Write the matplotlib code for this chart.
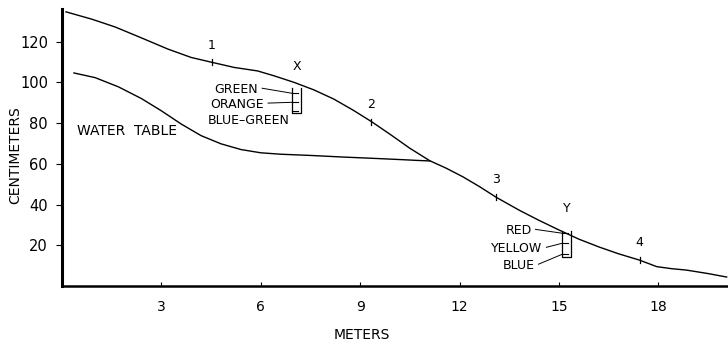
import matplotlib.pyplot as plt
import numpy as np

# profile of the ground surface (meters, centimeters)
surf_x = [0.12, 0.9, 1.6, 2.4, 3.2, 3.9, 4.53, 5.2, 5.9, 6.4, 7.0, 7.6, 8.2, 8.8, 9.34,
          9.9, 10.5, 11.1, 11.6, 12.1, 12.6, 13.1, 13.8, 14.4, 15.0, 15.6, 16.2, 16.8,
          17.43, 17.95, 18.4, 18.85, 19.5, 20.06]
surf_y = [134.6, 131.0, 127.2, 121.8, 116.3, 112.2, 109.8, 107.3, 105.6, 103.2, 100.0, 96.3,
          91.8, 86.2, 80.7, 74.5, 67.6, 61.5, 57.8, 53.6, 48.8, 43.6, 37.2, 32.2, 27.5, 23.0,
          19.2, 15.8, 12.7, 9.5, 8.5, 7.8, 6.1, 4.4]

# water table, joins the surface near 11 m
wt_x = [0.36, 1.0, 1.7, 2.4, 3.0, 3.6, 4.2, 4.8, 5.4, 6.0, 6.6, 7.5, 8.5, 9.5, 10.3, 10.8, 11.1]
wt_y = [104.6, 102.3, 97.8, 92.0, 86.0, 79.5, 73.8, 69.8, 67.0, 65.4, 64.7, 64.1, 63.3,
        62.6, 62.0, 61.6, 61.4]

# numbered stations on the surface
stations = ['1', '2', '3', '4']
station_x = [4.53, 9.34, 13.1, 17.43]
station_y = [109.8, 80.7, 43.6, 12.7]

# sampling columns X and Y
col_names = ['X', 'Y']
col_x = [6.95, 15.1]
col_top = [97.0, 27.0]
col_bot = [85.0, 14.0]
col_layers = [['GREEN', 'ORANGE', 'BLUE–GREEN'], ['RED', 'YELLOW', 'BLUE']]
layer_y = [[94.6, 90.2, 86.0], [25.9, 21.0, 15.6]]
label_y = [[96.6, 89.3, 81.5], [27.3, 18.5, 10.2]]

x_ticks = [3, 6, 9, 12, 15, 18]
y_ticks = [20, 40, 60, 80, 100, 120]

plt.rcParams['font.family'] = ['DejaVu Sans']
fig = plt.figure(figsize=(7.28, 3.45), dpi=100)
ax = fig.add_axes([62 / 728, 59 / 345, 666 / 728, 277 / 345])

ax.plot(surf_x, surf_y, color='black', lw=1.0)
ax.plot(wt_x, wt_y, color='black', lw=1.0)

# station marks
for s, sx, sy in zip(stations, station_x, station_y):
    ax.plot([sx, sx], [sy - 1.5, sy + 1.5], color='black', lw=0.9)
    ax.text(sx, sy + 8.5, s, ha='center', va='center', fontsize=9)

# columns with leaders
w = 0.27
for k in range(2):
    cx = col_x[k]
    ax.plot([cx, cx, cx + w, cx + w], [col_top[k], col_bot[k], col_bot[k], col_top[k]],
            color='black', lw=0.9)
    ax.text(cx + w / 2, col_top[k] + 11, col_names[k], ha='center', va='center', fontsize=9)
    for j, name in enumerate(col_layers[k]):
        ly = layer_y[k][j]
        ax.plot([cx, cx + w * 0.6], [ly, ly], color='black', lw=0.8)
        if k == 0:
            tx = [5.92, 6.1, 6.86][j]
        else:
            tx = [14.17, 14.5, 14.26][j]
        ax.text(tx, label_y[k][j], name, ha='right', va='center', fontsize=9)
        if not (k == 0 and j == 2):
            ax.plot([tx + 0.12, cx], [label_y[k][j] + 0.5, ly], color='black', lw=0.7)

ax.text(0.45, 76, 'WATER  TABLE', ha='left', va='center', fontsize=10)

ax.set_xlim(0, 20.1)
ax.set_ylim(0, 136)
ax.set_xticks(x_ticks)
ax.set_yticks(y_ticks)
ax.tick_params(axis='x', direction='in', length=3, pad=10, labelsize=10)
ax.tick_params(axis='y', direction='out', length=4, pad=6, labelsize=10.5)
for side in ['top', 'right']:
    ax.spines[side].set_visible(False)
ax.spines['left'].set_linewidth(2.2)
ax.spines['bottom'].set_linewidth(1.8)

fig.text(15 / 728, 1 - 155 / 345, 'CENTIMETERS', rotation=90, ha='center', va='center', fontsize=10)
fig.text(362 / 728, 1 - 335 / 345, 'METERS', ha='center', va='center', fontsize=10)

fig.savefig('out.png', dpi=100)
